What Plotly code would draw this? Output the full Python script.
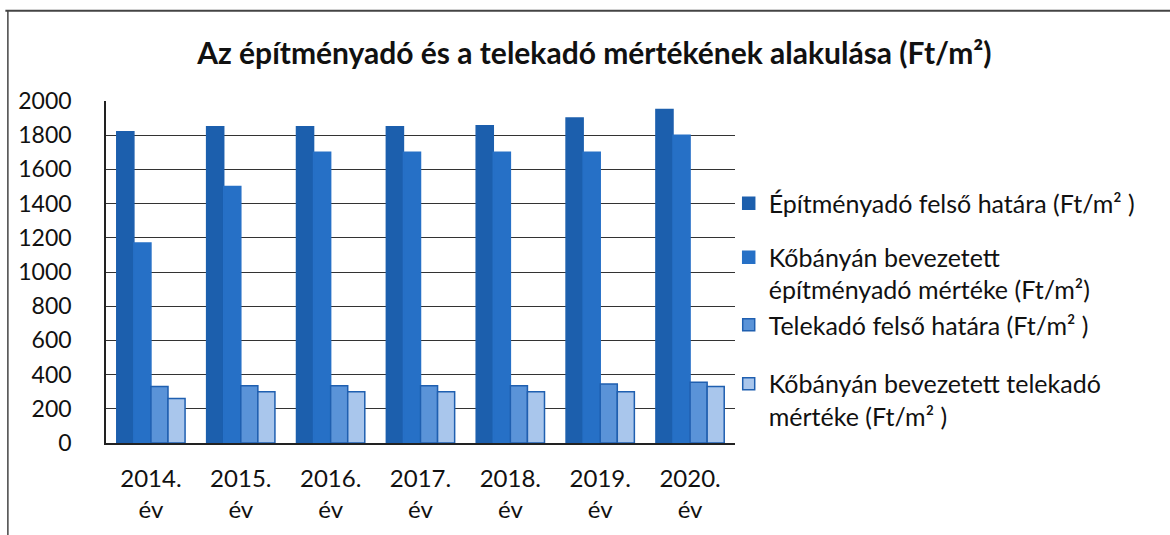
import plotly.graph_objects as go

years = ["2014.<br>év", "2015.<br>év", "2016.<br>év", "2017.<br>év", "2018.<br>év", "2019.<br>év", "2020.<br>év"]
epitmeny_felso = [1820, 1850, 1850, 1850, 1855, 1900, 1950]
epitmeny_kobanya = [1170, 1500, 1700, 1700, 1700, 1700, 1800]
telek_felso = [330, 335, 335, 335, 335, 345, 355]
telek_kobanya = [260, 300, 300, 300, 300, 300, 330]

names = [
    "Építményadó felső határa (Ft/m² )",
    "Kőbányán bevezetett<br>építményadó mértéke (Ft/m²)",
    "Telekadó felső határa (Ft/m² )",
    "Kőbányán bevezetett telekadó<br>mértéke (Ft/m² )",
]
series = [epitmeny_felso, epitmeny_kobanya, telek_felso, telek_kobanya]
fills = ["#1c5fad", "#2670c6", "#5a93d8", "#a9c6ec"]
lines = ["#1c5fad", "#2670c6", "#1f5fb0", "#1f5fb0"]
legend_ids = ["legend", "legend2", "legend3", "legend4"]

FONT = "Lato"
LEGFONT = dict(family=FONT, size=25, color="#111")

fig = go.Figure()
for n, s, f, l, lg in zip(names, series, fills, lines, legend_ids):
    fig.add_trace(go.Bar(x=years, y=s, name=n, legend=lg,
                         marker=dict(color=f, line=dict(color=l, width=1.5))))

leg_common = dict(x=0.99, xanchor="left", font=LEGFONT, bgcolor="rgba(0,0,0,0)",
                  itemwidth=30, valign="top")
fig.update_layout(
    width=1170, height=535,
    paper_bgcolor="white", plot_bgcolor="white",
    margin=dict(l=106, r=435, t=101, b=92),
    barmode="group", bargap=0.24, bargroupgap=0,
    font=dict(family=FONT, size=23, color="#111"),
    title=dict(text="<b>Az építményadó és a telekadó mértékének alakulása (Ft/m²)</b>",
               x=0.508, xanchor="center", y=0.9, yanchor="middle",
               font=dict(family=FONT, size=30, color="#111")),
    showlegend=True,
    legend=dict(y=0.70, yanchor="middle", **leg_common),
    legend2=dict(y=0.61, yanchor="top", **leg_common),
    legend3=dict(y=0.345, yanchor="middle", **leg_common),
    legend4=dict(y=0.24, yanchor="top", **leg_common),
    xaxis=dict(showgrid=False, showline=True, linecolor="#222", linewidth=1.5,
               ticks="", tickfont=dict(size=24), ticklabelstandoff=13),
    yaxis=dict(range=[0, 2000], dtick=200, showgrid=True, gridcolor="#333", gridwidth=1.3,
               showline=True, linecolor="#222", linewidth=1.5, ticks="",
               tickfont=dict(size=23), zeroline=False, ticklabelstandoff=28),
)
# outer frame (top and left edges visible)
fig.add_shape(type="line", xref="paper", yref="paper", x0=-0.16, x1=1.7, y0=1.264, y1=1.264,
              line=dict(color="#444", width=2))
fig.add_shape(type="line", xref="paper", yref="paper", x0=-0.156, x1=-0.156, y0=-0.3, y1=1.264,
              line=dict(color="#444", width=1.5))

fig.write_html("out.html", config={"displayModeBar": False},
               post_script="document.body.style.margin='0';")
